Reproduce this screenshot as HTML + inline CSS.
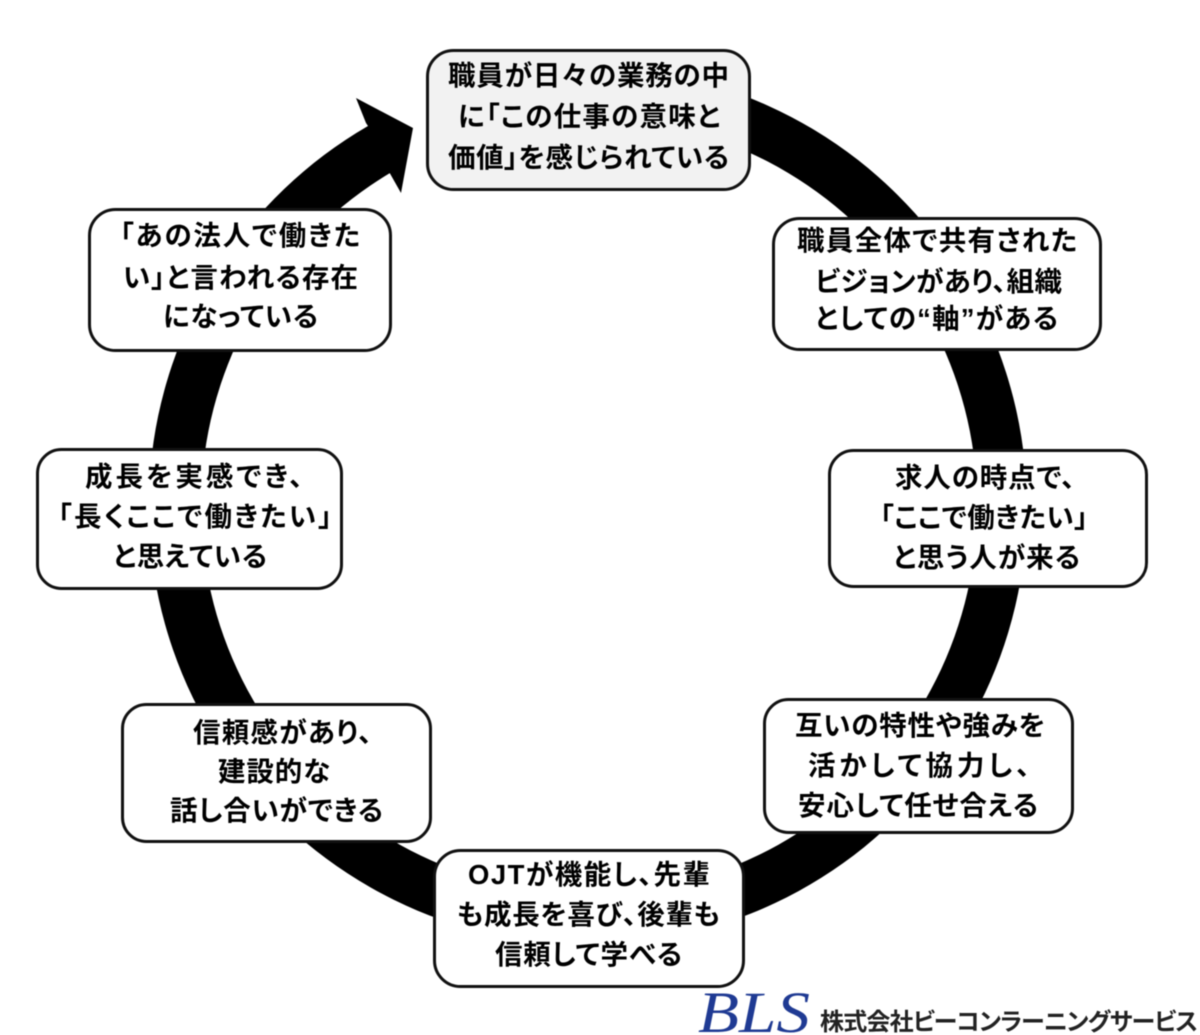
<!DOCTYPE html>
<html lang="ja">
<head>
<meta charset="utf-8">
<style>
html,body{margin:0;padding:0;background:#fff;width:1200px;height:1035px;overflow:hidden}
svg{display:block;filter:blur(.45px)}
.t text{font-family:"Liberation Sans","Noto Sans CJK JP",sans-serif;font-size:27.500px;font-weight:700;fill:#000;font-feature-settings:"palt"}
rect{stroke:#111;stroke-width:3;fill:#fff}
</style>
</head>
<body>
<svg width="1200" height="1035" viewBox="0 0 1200 1035" xmlns="http://www.w3.org/2000/svg">
<path d="M589 67A439 439 0 1 1 368 126L366 123L356 98L413 128L401 193L388 170L390 173A388 388 0 1 0 589 118Z" fill="#000"/>
<rect x="427.500" y="50.500" width="322" height="139" rx="26" style="fill:#f2f2f2"/>
<rect x="773.500" y="218.500" width="327" height="131" rx="26"/>
<rect x="829.500" y="450.500" width="317" height="136" rx="24"/>
<rect x="764.500" y="699.500" width="308" height="133" rx="24"/>
<rect x="434.500" y="850.500" width="309" height="136" rx="26"/>
<rect x="122.500" y="704.500" width="308" height="137" rx="24"/>
<rect x="37.500" y="449.500" width="304" height="139" rx="24"/>
<rect x="89.500" y="209.500" width="301" height="141" rx="26"/>
<g class="t">
<text x="448" y="85" textLength="281">職員が日々の業務の中</text>
<text x="458" y="126" textLength="262">に「この仕事の意味と</text>
<text x="448" y="167" textLength="281">価値」を感じられている</text>
<text x="797" y="250" textLength="280">職員全体で共有された</text>
<text x="815" y="291" textLength="247">ビジョンがあり、組織</text>
<text x="815" y="328" textLength="243">としての“軸”がある</text>
<text x="895" y="487" textLength="180">求人の時点で、</text>
<text x="880" y="527" textLength="208">「ここで働きたい」</text>
<text x="893" y="567" textLength="187">と思う人が来る</text>
<text x="795" y="735" textLength="250">互いの特性や強みを</text>
<text x="808" y="775" textLength="222">活かして協力し、</text>
<text x="798" y="815" textLength="240">安心して任せ合える</text>
<text x="468" y="884" textLength="242">OJTが機能し、先輩</text>
<text x="457" y="924" textLength="263">も成長を喜び、後輩も</text>
<text x="495" y="964" textLength="187">信頼して学べる</text>
<text x="193" y="742" textLength="179">信頼感があり、</text>
<text x="218" y="781" textLength="112">建設的な</text>
<text x="170" y="820" textLength="213">話し合いができる</text>
<text x="85" y="486" textLength="218">成長を実感でき、</text>
<text x="58" y="526" textLength="274">「長くここで働きたい」</text>
<text x="113" y="566" textLength="154">と思えている</text>
<text x="120" y="245" textLength="240">「あの法人で働きた</text>
<text x="123" y="287" textLength="235">い」と言われる存在</text>
<text x="163" y="326" textLength="155">になっている</text>
</g>
<text x="698" y="1032" textLength="112" lengthAdjust="spacingAndGlyphs" style="font-family:'Liberation Serif',serif;font-style:italic;font-size:58px;fill:#1f3a93">BLS</text>
<text x="820" y="1030" textLength="378" style="font-family:'Liberation Sans','Noto Sans CJK JP',sans-serif;font-size:24px;font-weight:700;fill:#222;font-feature-settings:'palt'">株式会社ビーコンラーニングサービス</text>
</svg>
</body>
</html>
